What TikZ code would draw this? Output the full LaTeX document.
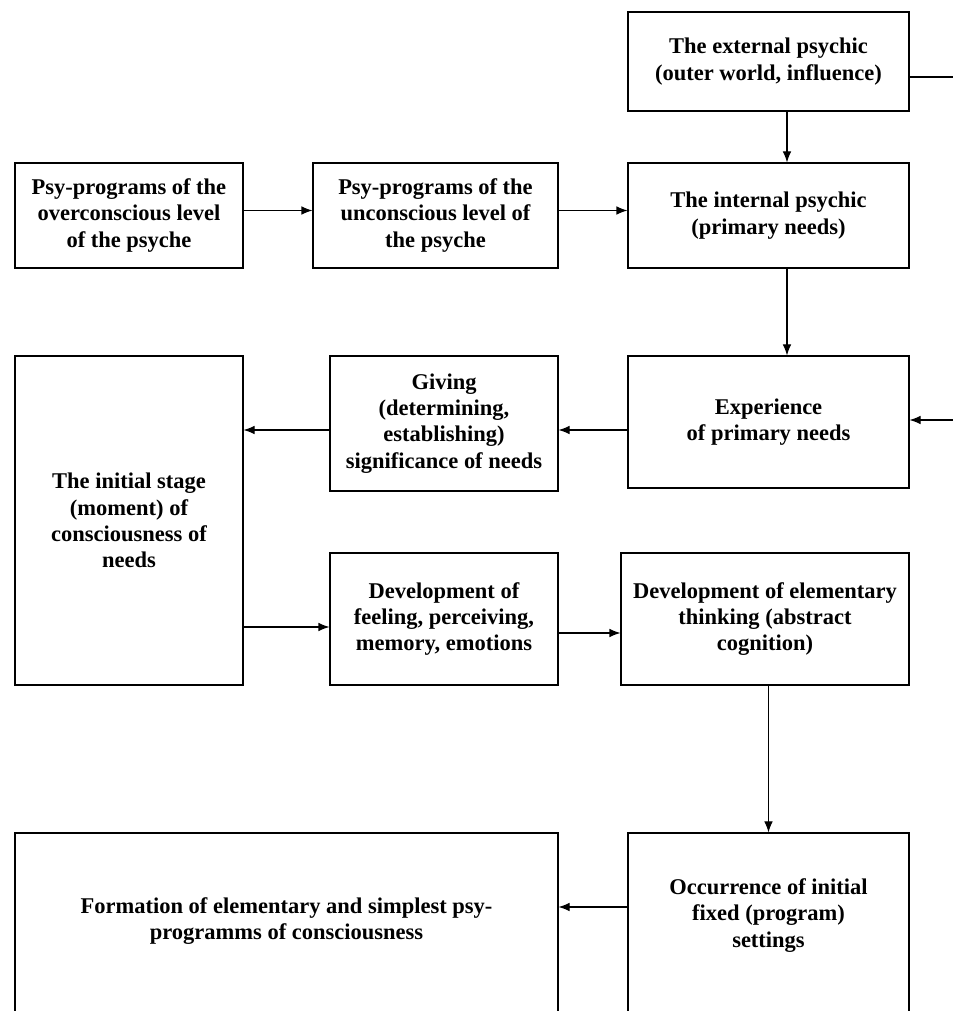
\documentclass[tikz,border=0pt]{standalone}
\usepackage{fontspec}
\setmainfont{Liberation Serif}
\usepackage{tikz}
\usetikzlibrary{positioning, arrows.meta, calc}

\begin{document}
\begin{tikzpicture}[
    line width=0.6pt,
    stage/.style={draw, rectangle, align=center, fill=white, inner sep=2pt, font=\fontsize{12.8}{15}\selectfont\bfseries},
    arr/.style={-{Latex[length=2.2mm, width=1.7mm]}}
]
    \useasboundingbox (0,0) rectangle (19.06,20.22);

    % Stages
    \node[stage, minimum width=5.62cm, minimum height=1.98cm] (ext) at (15.37,18.99) {The external psychic\\(outer world, influence)};
    \node[stage, minimum width=4.56cm, minimum height=2.10cm] (over) at (2.58,15.91) {Psy-programs of the\\overconscious level\\of the psyche};
    \node[stage, minimum width=4.90cm, minimum height=2.10cm] (uncon) at (8.71,15.91) {Psy-programs of the\\unconscious level of\\the psyche};
    \node[stage, minimum width=5.62cm, minimum height=2.10cm] (internal) at (15.37,15.91) {The internal psychic\\(primary needs)};
    \node[stage, minimum width=4.56cm, minimum height=2.70cm] (giving) at (8.88,11.75) {Giving\\(determining,\\establishing)\\significance of needs};
    \node[stage, minimum width=5.62cm, minimum height=2.64cm] (experience) at (15.37,11.78) {Experience\\of primary needs};
    \node[stage, minimum width=4.56cm, minimum height=6.58cm] (initial) at (2.58,9.81) {The initial stage\\(moment) of\\consciousness of\\needs};
    \node[stage, minimum width=4.56cm, minimum height=2.64cm] (devfeel) at (8.88,7.84) {Development of\\feeling, perceiving,\\memory, emotions};
    \node[stage, minimum width=5.76cm, minimum height=2.64cm] (devthink) at (15.30,7.84) {Development of elementary\\thinking (abstract\\cognition)};
    \node[stage, minimum width=10.86cm, minimum height=3.84cm, text depth=0.42cm] (formation) at (5.73,1.64) {Formation of elementary and simplest psy-\\programms of consciousness};
    \node[stage, minimum width=5.62cm, minimum height=3.84cm, text depth=0.64cm] (occurrence) at (15.37,1.64) {Occurrence of initial\\fixed (program)\\settings};

    % Off-page ends
    \coordinate (extout) at (19.06,18.68);
    \coordinate (expin) at (19.06,11.82);

    % Connections
    \draw (ext.east |- extout) -- (extout);
    \draw[arr] (expin) -- (experience.east |- expin);
    \draw[arr] ([xshift=0.37cm]ext.south) -- ([xshift=0.37cm]internal.north);
    \draw[arr] ([xshift=0.37cm]internal.south) -- ([xshift=0.37cm]experience.north);
    \draw[arr] ([yshift=0.1cm]over.east) -- ([yshift=0.1cm]uncon.west);
    \draw[arr] ([yshift=0.1cm]uncon.east) -- ([yshift=0.1cm]uncon.east -| internal.west);
    \draw[arr] ([yshift=-0.16cm]experience.west) -- ([yshift=-0.16cm]experience.west -| giving.east);
    \draw[arr] ([yshift=-0.13cm]giving.west) -- ([yshift=-0.13cm]giving.west -| initial.east);
    \draw[arr] ([yshift=-0.16cm]devfeel.west -| initial.east) -- ([yshift=-0.16cm]devfeel.west);
    \draw[arr] ([yshift=-0.28cm]devfeel.east) -- ([yshift=-0.28cm]devfeel.east -| devthink.west);
    \draw[arr] (occurrence.north |- devthink.south) -- (occurrence.north);
    \draw[arr] ([yshift=0.44cm]occurrence.west) -- ([yshift=0.44cm]occurrence.west -| formation.east);
\end{tikzpicture}
\end{document}
